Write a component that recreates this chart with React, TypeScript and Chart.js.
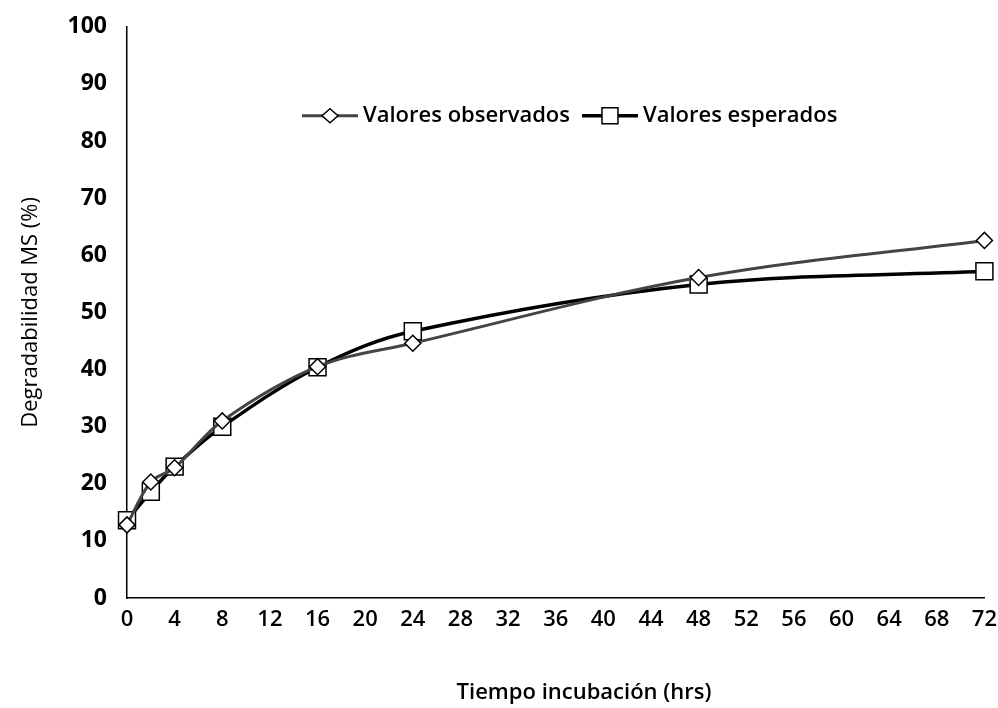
import React, { useEffect, useRef } from "react";
import { Chart, registerables } from "chart.js";

Chart.register(...registerables);

const hours = [0, 2, 4, 8, 16, 24, 48, 72];
const observed = [12.8, 20.3, 22.8, 31.0, 40.5, 44.6, 56.1, 62.6];
const expected = [13.6, 18.6, 23.0, 30.0, 40.4, 46.7, 54.9, 57.2];
const seriesLabels = ["Valores observados", "Valores esperados"];
const xTitle = "Tiempo incubación (hrs)";
const yTitle = "Degradabilidad MS (%)";
const xTicks = { min: 0, max: 72, step: 4 };
const yTicks = { min: 0, max: 100, step: 10 };

const FONT = "'Open Sans', 'Liberation Sans', sans-serif";

const legendPlugin = {
  id: "insideLegend",
  afterDatasetsDraw(chart: any) {
    const ctx = chart.ctx;
    const area = chart.chartArea;
    const y = area.top + 89;
    let x = area.left + 175;
    ctx.save();
    ctx.font = `600 22px ${FONT}`;
    ctx.textBaseline = "middle";
    chart.data.datasets.forEach((ds: any) => {
      ctx.strokeStyle = ds.borderColor;
      ctx.lineWidth = ds.borderWidth;
      ctx.beginPath();
      ctx.moveTo(x, y);
      ctx.lineTo(x + 56, y);
      ctx.stroke();
      ctx.fillStyle = "#fff";
      ctx.strokeStyle = "#000";
      ctx.lineWidth = 1.5;
      ctx.beginPath();
      if (ds.pointStyle === "rect") {
        ctx.rect(x + 20, y - 8, 16, 16);
      } else {
        ctx.moveTo(x + 28, y - 7);
        ctx.lineTo(x + 36, y);
        ctx.lineTo(x + 28, y + 7);
        ctx.lineTo(x + 20, y);
        ctx.closePath();
      }
      ctx.fill();
      ctx.stroke();
      ctx.fillStyle = "#000";
      ctx.fillText(ds.label, x + 61, y);
      x += 61 + ctx.measureText(ds.label).width + 12;
    });
    // x-axis title
    ctx.font = `600 22px ${FONT}`;
    ctx.textAlign = "center";
    ctx.fillText(xTitle, area.left + (area.right - area.left) * 0.533, area.bottom + 95);
    ctx.restore();
  },
};

export default function App() {
  const ref = useRef<HTMLCanvasElement>(null);
  useEffect(() => {
    document.body.style.margin = "0";
    const chart = new Chart(ref.current!, {
      type: "line",
      data: {
        datasets: [
          {
            label: seriesLabels[0],
            data: hours.map((h, i) => ({ x: h, y: observed[i] })),
            borderColor: "#444",
            borderWidth: 3,
            tension: 0.35,
            clip: false,
            pointStyle: "rectRot",
            pointRadius: 8,
            pointBackgroundColor: "#fff",
            pointBorderColor: "#000",
            pointBorderWidth: 1.5,
          },
          {
            label: seriesLabels[1],
            data: hours.map((h, i) => ({ x: h, y: expected[i] })),
            borderColor: "#000",
            borderWidth: 3.5,
            tension: 0.35,
            clip: false,
            pointStyle: "rect",
            pointRadius: 12,
            pointBackgroundColor: "#fff",
            pointBorderColor: "#000",
            pointBorderWidth: 1.5,
          },
        ],
      },
      options: {
        animation: false,
        responsive: false,
        maintainAspectRatio: false,
        layout: { padding: { top: 10, right: 0, left: 0, bottom: 0 } },
        plugins: { legend: { display: false }, tooltip: { enabled: false } },
        scales: {
          x: {
            type: "linear",
            min: xTicks.min,
            max: xTicks.max,
            ticks: {
              stepSize: xTicks.step,
              color: "#000",
              padding: 9,
              font: { family: FONT, size: 22, weight: 600 as any },
            },
            grid: { display: false, drawTicks: false },
            border: { display: true, color: "#000", width: 1.5 },
            title: { display: false },
            afterFit: (s: any) => {
              s.height = 110;
            },
          },
          y: {
            min: yTicks.min,
            max: yTicks.max,
            ticks: {
              stepSize: yTicks.step,
              color: "#000",
              padding: 20,
              font: { family: FONT, size: 23, weight: 700 as any },
            },
            grid: { display: false, drawTicks: false },
            border: { display: true, color: "#000", width: 1.5 },
            title: {
              display: true,
              text: yTitle,
              color: "#000",
              font: { family: FONT, size: 22, weight: 500 as any },
              padding: { top: 18, bottom: 0 },
            },
            afterFit: (s: any) => {
              s.width = 127;
            },
          },
        },
      },
      plugins: [legendPlugin],
    });
    return () => chart.destroy();
  }, []);
  return (
    <div style={{ position: "absolute", left: 0, top: 0, width: 998, height: 708, overflow: "hidden", background: "#fff" }}>
      <canvas ref={ref} width={1006} height={715} style={{ position: "absolute", left: 0, top: -7 }} />
    </div>
  );
}
